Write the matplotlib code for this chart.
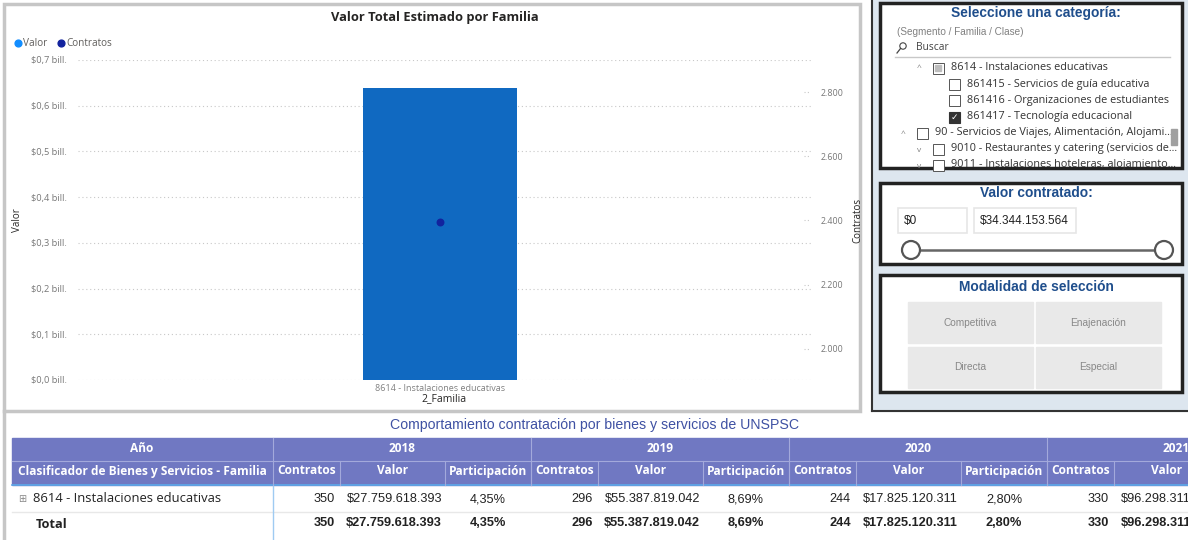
import matplotlib
matplotlib.use("Agg")
import matplotlib.pyplot as plt
from matplotlib.patches import Rectangle, Circle
from matplotlib.transforms import blended_transform_factory

# ---- data ----
familia = ["8614 - Instalaciones educativas"]
valor_total = [0.638]          # billones de pesos
contratos_total = [2394]

years = ["2018", "2019", "2020", "2021"]
contratos = [350, 296, 244, 330]
valores = [27759618393, 55387819042, 17825120311, 96298311000]
participacion = [4.35, 8.69, 2.80, None]

arbol = [
    ("^", "half", "8614 - Instalaciones educativas", 1),
    ("", "off", "861415 - Servicios de guía educativa", 2),
    ("", "off", "861416 - Organizaciones de estudiantes", 2),
    ("", "on", "861417 - Tecnología educacional", 2),
    ("^", "off", "90 - Servicios de Viajes, Alimentación, Alojami...", 0),
    ("v", "off", "9010 - Restaurantes y catering (servicios de...", 1),
    ("v", "off", "9011 - Instalaciones hoteleras, alojamiento...", 1),
]
modalidades = ["Competitiva", "Enajenación", "Directa", "Especial"]
rango_valor = ["$0", "$34.344.153.564"]

W, H = 1188, 540
fig = plt.figure(figsize=(W / 100, H / 100), dpi=100)
fig.patch.set_facecolor("white")

# background axes in pixel coordinates
bg = fig.add_axes([0, 0, 1, 1], zorder=0)
bg.set_xlim(0, W)
bg.set_ylim(H, 0)
bg.axis("off")

SEG = "Open Sans"
ARI = "Liberation Sans"

# ---- main chart panel ----
bg.add_patch(Rectangle((4, 4), 856, 407, fill=False, ec="#c6c6c6", lw=2.5))
bg.text(435, 17, "Valor Total Estimado por Familia", ha="center", va="center",
        fontsize=9.3, fontweight="bold", family=SEG, color="#252423")
bg.scatter([18], [43], s=24, color="#118DFF", clip_on=False)
bg.text(23, 43, "Valor", va="center", fontsize=7.2, family=SEG, color="#605E5C")
bg.scatter([61], [43], s=24, color="#12239E", clip_on=False)
bg.text(66, 43, "Contratos", va="center", fontsize=7.2, family=SEG, color="#605E5C")

ax = fig.add_axes([78 / W, 1 - 380 / H, (811 - 78) / W, (380 - 60) / H], zorder=2)
ax.patch.set_alpha(0)
ax.bar(range(len(familia)), valor_total, width=0.21, color="#1069C1", zorder=2)
ax.set_xlim(-0.494, 0.506)
ax.set_ylim(0, 0.7)
yt = [i / 10 for i in range(8)]
ax.set_yticks(yt)
ax.set_yticklabels([f"$0,{i} bill." for i in range(8)])
ax.yaxis.grid(True, linestyle=(0, (1, 2.5)), color="#c8c8c8", lw=0.8)
ax.set_axisbelow(True)
ax.tick_params(axis="y", length=0, labelsize=6.7, labelcolor="#777777", pad=8)
ax.set_xticks(range(len(familia)))
ax.set_xticklabels(familia)
ax.tick_params(axis="x", length=0, labelsize=6.5, labelcolor="#808080", pad=3)
for s in ax.spines.values():
    s.set_visible(False)
ax.set_xlabel("2_Familia", fontsize=7.5, family=SEG, color="#252423", labelpad=0)
ax.set_ylabel("Valor", fontsize=7, family=SEG, color="#252423", labelpad=6)
for lab in ax.get_yticklabels() + ax.get_xticklabels():
    lab.set_family(SEG)

ax2 = ax.twinx()
ax2.set_ylim(1903, 2900)
rt = [2000, 2200, 2400, 2600, 2800]
ax2.set_yticks(rt)
ax2.set_yticklabels([f"{t:,}".replace(",", ".") for t in rt])
ax2.tick_params(axis="y", length=0, labelsize=6.4, labelcolor="#777777", pad=7)
for lab in ax2.get_yticklabels():
    lab.set_family(SEG)
for s in ax2.spines.values():
    s.set_visible(False)
tr = blended_transform_factory(ax2.transAxes, ax2.transData)
for t in rt:
    ax2.plot([0.99, 1.0], [t, t], transform=tr, ls=(0, (1, 2)), color="#c8c8c8", lw=0.8)
ax2.scatter(range(len(familia)), contratos_total, s=22, color="#12239E", zorder=3)
ax2.set_ylabel("Contratos", fontsize=7, family=SEG, color="#252423", labelpad=6)

# ---- right filter panel ----
bg.add_patch(Rectangle((873, 0), W - 873, 411, color="#DDE6EF", zorder=1))
bg.plot([872, 872], [0, 411], color="#333333", lw=1.5, zorder=2)
bg.plot([872, W], [411, 411], color="#333333", lw=1.5, zorder=2)
boxes = [(880, 3, 302, 165), (880, 183, 302, 81), (880, 275, 302, 117)]
for (x, y, w, h) in boxes:
    bg.add_patch(Rectangle((x, y), w, h, fc="white", ec="#222222", lw=2.5, zorder=2))

title_kw = dict(ha="center", va="center", fontsize=9.9, fontweight="bold",
                family=ARI, color="#1F4E8C", zorder=5)
bg.text(1036, 13, "Seleccione una categoría:", **title_kw)
bg.text(1036, 193, "Valor contratado:", **title_kw)
bg.text(1036, 287, "Modalidad de selección", **title_kw)

bg.text(897, 32, "(Segmento / Familia / Clase)", va="center", fontsize=7.2,
        family=ARI, color="#808080", zorder=5)
bg.add_patch(Circle((903, 46), 3.2, fill=False, ec="#444444", lw=0.8, zorder=5))
bg.plot([897, 900.5], [53, 48.5], color="#444444", lw=0.9, zorder=5)
bg.text(916, 48, "Buscar", va="center", fontsize=7.4, family=SEG, color="#444444", zorder=5)
bg.plot([895, 1170], [57, 57], color="#c8c8c8", lw=1, zorder=5)

row_y = [68, 84, 100, 117, 133, 149, 165]
for (car, st, txt, lvl), yy in zip(arbol, row_y):
    cx = 903 + lvl * 16
    bx = cx + 19
    if car:
        bg.text(cx, yy + 1, car, ha="center", va="center", fontsize=6,
                family=SEG, color="#808080", zorder=5, clip_on=True)
    if st == "on":
        bg.add_patch(Rectangle((bx - 5.5, yy - 5.5), 11, 11, fc="#333333", ec="#333333",
                               lw=0.8, zorder=5))
        bg.text(bx, yy, "✓", ha="center", va="center", fontsize=6.5,
                family="DejaVu Sans", color="white", zorder=6)
    else:
        bg.add_patch(Rectangle((bx - 5.5, yy - 5.5), 11, 11, fc="white", ec="#555555",
                               lw=0.7, zorder=5))
        if st == "half":
            bg.add_patch(Rectangle((bx - 3, yy - 3), 6, 6, color="#bdbdbd", zorder=6))
    t = bg.text(bx + 13, yy, txt, va="center", fontsize=7.8, family=SEG,
                color="#333333", zorder=5)
    t.set_clip_path(Rectangle((880, 3), 290, 162, transform=bg.transData))
bg.add_patch(Rectangle((1171, 129), 6, 16, color="#a0a0a0", zorder=6))

# slider box
for (x0, x1), txt in zip([(898, 967), (974, 1076)], rango_valor):
    bg.add_patch(Rectangle((x0, 208), x1 - x0, 25, fc="white", ec="#e6e6e6", lw=1.2, zorder=5))
    bg.text(x0 + 6, 221, txt, va="center", fontsize=8.5, family=ARI, color="#222222", zorder=6)
bg.plot([911, 1164], [250, 250], color="#666666", lw=1.8, zorder=5)
for cx in (911, 1164):
    bg.add_patch(Circle((cx, 250), 9, fc="white", ec="#555555", lw=1.6, zorder=6))

# modalidad buttons
cells = [(908, 302), (1036, 302), (908, 347), (1036, 347)]
for (x, y), txt in zip(cells, modalidades):
    bg.add_patch(Rectangle((x, y), 125, 41, color="#E9E9E9", zorder=5))
    bg.text(x + 62.5, y + 20.5, txt, ha="center", va="center", fontsize=7.3,
            family=ARI, color="#888888", zorder=6)

# ---- bottom table ----
bg.plot([4, 4], [411, 540], color="#c6c6c6", lw=2.5)
bg.text(595, 425, "Comportamiento contratación por bienes y servicios de UNSPSC",
        ha="center", va="center", fontsize=10.2, family=ARI, color="#3F51A3")
hdr = "#7078C2"
sep = "#A3A9DB"
bg.add_patch(Rectangle((12, 438), W - 12, 47, color=hdr))
bg.plot([12, W], [460.5, 460.5], color=sep, lw=0.8)
bg.plot([12, W], [485, 485], color="#5DA9E9", lw=1.2)
head_kw = dict(ha="center", va="center", fontsize=8.6, fontweight="bold",
               family=SEG, color="white")
bg.text(142, 449, "Año", **head_kw)
bg.text(142, 471, "Clasificador de Bienes y Servicios - Familia", **head_kw)

x0 = 273
gw = 258
subw = [67, 105, 86]
subn = ["Contratos", "Valor", "Participación"]
bg.plot([x0, x0], [438, 485], color=sep, lw=0.8)
for i, yr in enumerate(years):
    gx = x0 + i * gw
    bg.text(gx + gw / 2, 449, yr, **head_kw)
    bg.plot([gx + gw, gx + gw], [438, 485], color=sep, lw=0.8)
    cx = gx
    for w, n in zip(subw, subn):
        bg.text(cx + w / 2, 471, n, **head_kw)
        bg.plot([cx + w, cx + w], [460.5, 485], color=sep, lw=0.8)
        cx += w
    # body rows
    for yy, bold in [(499, "normal"), (523, "bold")]:
        kw = dict(va="center", fontsize=9.2, family=ARI, color="#222222", fontweight=bold)
        bg.text(gx + subw[0] - 5, yy, str(contratos[i]), ha="right", **kw)
        bg.text(gx + subw[0] + subw[1] - 3, yy, "$" + f"{valores[i]:,}".replace(",", "."),
                ha="right", **kw)
        if participacion[i] is not None:
            bg.text(gx + subw[0] + subw[1] + subw[2] / 2, yy,
                    f"{participacion[i]:.2f}%".replace(".", ","), ha="center", **kw)

bg.plot([12, W], [512, 512], color="#e8e8e8", lw=1)
bg.plot([273, 273], [486, 540], color="#9FCBF2", lw=1)
bg.text(18, 499, "⊞", va="center", fontsize=7, family="DejaVu Sans", color="#888888")
bg.text(33, 499, familia[0], va="center", fontsize=9.4, family=SEG, color="#222222")
bg.text(36, 524, "Total", va="center", fontsize=9.2, fontweight="bold", family=SEG,
        color="#222222")

fig.savefig("out.png", dpi=100)
